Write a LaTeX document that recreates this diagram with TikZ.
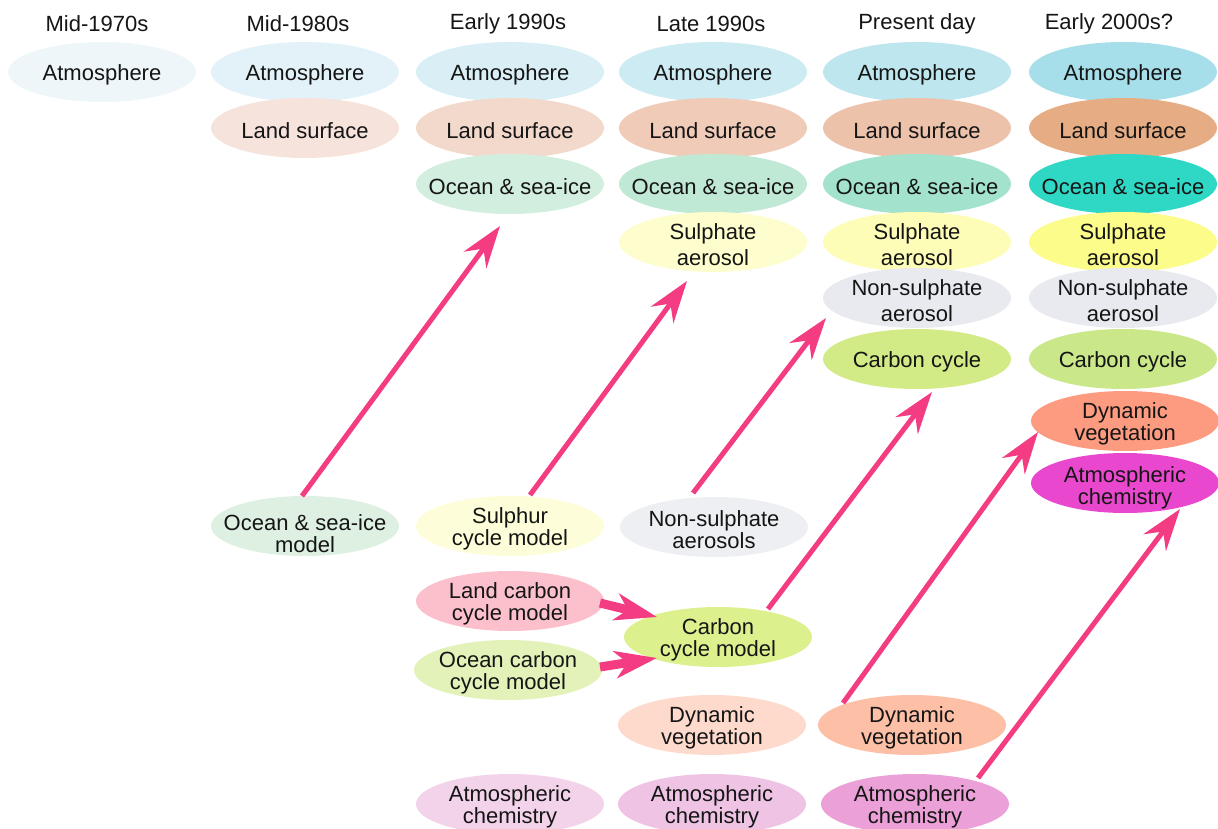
\documentclass[tikz,border=0pt]{standalone}
\usepackage{fontspec}
\setmainfont{Liberation Sans}
\usetikzlibrary{arrows.meta,calc}
\definecolor{arrc}{HTML}{F43C82}
\definecolor{txtc}{HTML}{151515}
\newcommand\bub[5]{\definecolor{bubc#1}{HTML}{#4}%
  \fill[fill=bubc#1] (#2) ellipse [x radius=94pt, y radius=30pt];
  \node[#3] (#1) at (#2) {#5};}
\tikzset{
  txt/.style={align=center, inner sep=0pt, text=txtc, yshift=-3pt, font=\fontsize{22}{22}\selectfont},
  txtw/.style={txt, font=\fontsize{22}{26}\selectfont},
  hdr/.style={inner sep=0pt, text=txtc, font=\fontsize{22}{22}\selectfont},
  arr/.style={draw=arrc, line width=5pt, -{Stealth[length=42pt,width=28pt,inset=14pt]}},
  arrs/.style={draw=arrc, line width=9pt, -{Stealth[length=42pt,width=27pt,inset=12pt]}},
}
\begin{document}
\begin{tikzpicture}[x=1pt,y=-1pt]
\useasboundingbox (0,0) rectangle (1218,829);
\clip (0,0) rectangle (1218,829);
% headers
\node[hdr] (h1) at (97,24) {Mid-1970s};
\node[hdr] (h2) at (298,24) {Mid-1980s};
\node[hdr] (h3) at (508,24) {Early 1990s};
\node[hdr] (h4) at (711,24) {Late 1990s};
\node[hdr] (h5) at (917,24) {Present day};
\node[hdr] (h6) at (1109,24) {Early 2000s?};
% column 1
\bub{a1}{102,72}{txt}{EEF6FA}{Atmosphere}
% column 2
\bub{a2}{305,72}{txt}{E3F2F8}{Atmosphere}
\bub{l2}{305,128}{txt}{F6E3DB}{Land surface}
\bub{ocm}{305,526}{txt,yshift=-5pt}{DDF0E2}{Ocean \& sea-ice\\model}
% column 3
\bub{a3}{510,72}{txt}{D9EFF5}{Atmosphere}
\bub{l3}{510,128}{txt}{F2D9CC}{Land surface}
\bub{o3}{510,184}{txt}{D2EEDF}{Ocean \& sea-ice}
\bub{sul}{510,526}{txt}{FDFDDA}{Sulphur\\cycle model}
\bub{lcc}{510,601}{txt}{FBC0CC}{Land carbon\\cycle model}
\bub{occ}{508,670}{txt}{E2F2B8}{Ocean carbon\\cycle model}
\bub{ac3}{510,804}{txt}{F3D3EA}{Atmospheric\\chemistry}
% column 4
\bub{a4}{713,72}{txt}{CDEBF2}{Atmosphere}
\bub{l4}{713,128}{txt}{EFCBB8}{Land surface}
\bub{o4}{713,184}{txt}{BFE8D5}{Ocean \& sea-ice}
\bub{s4}{713,242}{txtw}{FDFDCE}{Sulphate\\aerosol}
\bub{nsa}{714,527}{txt}{EDEFF2}{Non-sulphate\\aerosols}
\bub{ccm}{718,637}{txt}{DDF08E}{Carbon\\cycle model}
\bub{dv4}{712,725}{txt}{FDDACB}{Dynamic\\vegetation}
\bub{ac4}{712,804}{txt}{EEC3E4}{Atmospheric\\chemistry}
% column 5
\bub{a5}{917,72}{txt}{BDE6EE}{Atmosphere}
\bub{l5}{917,128}{txt}{ECC2AB}{Land surface}
\bub{o5}{917,184}{txt}{A3E2CC}{Ocean \& sea-ice}
\bub{s5}{917,242}{txtw}{FDFDB8}{Sulphate\\aerosol}
\bub{n5}{917,298}{txtw}{E8EAEF}{Non-sulphate\\aerosol}
\bub{c5}{917,359}{txt}{D3EB86}{Carbon cycle}
\bub{dv5}{912,725}{txt}{FDBFA5}{Dynamic\\vegetation}
\bub{ac5}{915,804}{txt}{EBA0D8}{Atmospheric\\chemistry}
% column 6
\bub{a6}{1123,72}{txt}{A6DFEA}{Atmosphere}
\bub{l6}{1123,128}{txt}{E6AD84}{Land surface}
\bub{o6}{1123,184}{txt}{2ED8C5}{Ocean \& sea-ice}
\bub{s6}{1123,242}{txtw}{FCFC8A}{Sulphate\\aerosol}
\bub{n6}{1123,298}{txtw}{E8EAEF}{Non-sulphate\\aerosol}
\bub{c6}{1123,359}{txt}{CAE88A}{Carbon cycle}
\bub{dv6}{1125,421}{txt}{FC9B80}{Dynamic\\vegetation}
\bub{ac6}{1125,483}{txt,yshift=-2pt}{EA47CF}{Atmospheric\\chemistry}
% arrows
\draw[arr] ($(ocm)+(-3,-38)$) -- ($(o3)+(-10,39)$);
\draw[arr] ($(sul)+(20,-34)$) -- ($(s4)+(-26,36)$);
\draw[arr] ($(nsa)+(-21,-37)$) -- ($(n5)+(-91,17)$);
\draw[arr] ($(ccm)+(50,-31)$) -- ($(c5)+(15,30)$);
\draw[arr] ($(dv5)+(-69,-25)$) -- ($(dv6)+(-87,8)$);
\draw[arr] ($(ac5)+(63,-29)$) -- ($(ac6)+(55,21)$);
\draw[arrs] ($(lcc)+(90,-1)$) -- ($(ccm)+(-61,-23)$);
\draw[arrs] ($(occ)+(92,-6)$) -- ($(ccm)+(-61,18)$);
\end{tikzpicture}
\end{document}
